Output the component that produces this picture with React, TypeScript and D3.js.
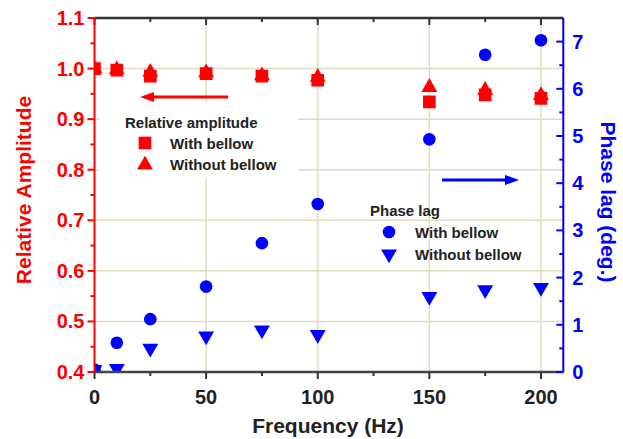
import { useEffect, useRef } from 'react'
import * as d3 from 'd3'

// data
const freq = [0, 10, 25, 50, 75, 100, 150, 175, 200]
const ampWith = [1.0, 0.997, 0.985, 0.99, 0.985, 0.977, 0.934, 0.948, 0.941]
const ampWithout = [1.0, 0.998, 0.993, 0.992, 0.986, 0.983, 0.963, 0.957, 0.947]
const phaseWith = [0.05, 0.62, 1.12, 1.81, 2.73, 3.56, 4.93, 6.72, 7.03]
const phaseWithout = [0.05, 0.07, 0.5, 0.76, 0.89, 0.79, 1.6, 1.74, 1.79]

const xMajor = [0, 50, 100, 150, 200]
const xMinor = [25, 75, 125, 175]
const ampMajor = [0.4, 0.5, 0.6, 0.7, 0.8, 0.9, 1.0, 1.1]
const ampMinor = [0.45, 0.55, 0.65, 0.75, 0.85, 0.95, 1.05]
const phaseMajor = [0, 1, 2, 3, 4, 5, 6, 7]
const phaseMinor = [0.5, 1.5, 2.5, 3.5, 4.5, 5.5, 6.5]

const W = 623
const H = 439
const RED = '#ff0000'
const BLUE = '#0000ff'
const GRID = '#dedec0'
const FONT = 'Liberation Sans, Arial, sans-serif'

export default function App() {
  const ref = useRef<SVGSVGElement>(null)

  useEffect(() => {
    const svg = d3.select(ref.current)
    svg.selectAll('*').remove()

    const m = { left: 94.5, right: 563.3, top: 18, bottom: 372 }
    const x = d3.scaleLinear().domain([0, 210]).range([m.left, m.right])
    const yA = d3.scaleLinear().domain([0.4, 1.1]).range([m.bottom, m.top])
    const yP = d3.scaleLinear().domain([0, 7.5]).range([m.bottom, m.top])

    svg.append('defs').append('clipPath').attr('id', 'plot')
      .append('rect')
      .attr('x', m.left).attr('y', m.top)
      .attr('width', m.right - m.left).attr('height', m.bottom - m.top)

    // grid
    const grid = svg.append('g').attr('stroke', GRID).attr('stroke-width', 1.5)
    ampMajor.filter(v => v > 0.4 && v < 1.1).forEach(v => {
      grid.append('line').attr('x1', m.left).attr('x2', m.right).attr('y1', yA(v)).attr('y2', yA(v))
    })
    xMajor.filter(v => v > 0).forEach(v => {
      grid.append('line').attr('x1', x(v)).attr('x2', x(v)).attr('y1', m.top).attr('y2', m.bottom)
    })

    // white box behind the amplitude legend
    svg.append('rect').attr('x', 100).attr('y', 103).attr('width', 198).attr('height', 75).attr('fill', '#fff')

    // markers
    const plot = svg.append('g').attr('clip-path', 'url(#plot)')
    const sq = d3.symbol().type(d3.symbolSquare).size(160)
    const tri = d3.symbol().type(d3.symbolTriangle).size(110)
    const circ = d3.symbol().type(d3.symbolCircle).size(125)

    freq.forEach((f, i) => {
      plot.append('path').attr('d', sq()).attr('fill', RED)
        .attr('transform', `translate(${x(f)},${yA(ampWith[i])})`)
      plot.append('path').attr('d', tri()).attr('fill', RED)
        .attr('transform', `translate(${x(f)},${yA(ampWithout[i])})`)
      plot.append('path').attr('d', circ()).attr('fill', BLUE)
        .attr('transform', `translate(${x(f)},${yP(phaseWith[i])})`)
      plot.append('path').attr('d', tri()).attr('fill', BLUE)
        .attr('transform', `translate(${x(f)},${yP(phaseWithout[i])}) rotate(180)`)
    })

    // frame / axes
    const ax = svg.append('g')
    ax.append('line').attr('x1', m.left).attr('x2', m.right).attr('y1', m.top).attr('y2', m.top)
      .attr('stroke', '#333').attr('stroke-width', 2.5)
    ax.append('line').attr('x1', m.left).attr('x2', m.right).attr('y1', m.bottom).attr('y2', m.bottom)
      .attr('stroke', '#444').attr('stroke-width', 2.5)

    const tickX = (vals: number[], len: number) => vals.forEach(v => {
      ax.append('line').attr('x1', x(v)).attr('x2', x(v)).attr('y1', m.bottom).attr('y2', m.bottom + len)
        .attr('stroke', '#333').attr('stroke-width', 2)
      ax.append('line').attr('x1', x(v)).attr('x2', x(v)).attr('y1', m.top).attr('y2', m.top + len)
        .attr('stroke', '#333').attr('stroke-width', 2)
    })
    tickX(xMajor, 7)
    tickX(xMinor, 4)

    ax.append('line').attr('x1', m.left).attr('x2', m.left).attr('y1', m.top).attr('y2', m.bottom)
      .attr('stroke', RED).attr('stroke-width', 2)
    ampMajor.forEach(v => ax.append('line').attr('x1', m.left - 7).attr('x2', m.left)
      .attr('y1', yA(v)).attr('y2', yA(v)).attr('stroke', RED).attr('stroke-width', 2))
    ampMinor.forEach(v => ax.append('line').attr('x1', m.left - 4).attr('x2', m.left)
      .attr('y1', yA(v)).attr('y2', yA(v)).attr('stroke', RED).attr('stroke-width', 2))

    ax.append('line').attr('x1', m.right).attr('x2', m.right).attr('y1', m.top).attr('y2', m.bottom)
      .attr('stroke', BLUE).attr('stroke-width', 2)
    phaseMajor.forEach(v => ax.append('line').attr('x1', m.right - 7).attr('x2', m.right)
      .attr('y1', yP(v)).attr('y2', yP(v)).attr('stroke', BLUE).attr('stroke-width', 2))
    phaseMinor.forEach(v => ax.append('line').attr('x1', m.right - 4).attr('x2', m.right)
      .attr('y1', yP(v)).attr('y2', yP(v)).attr('stroke', BLUE).attr('stroke-width', 2))

    // tick labels
    const lab = svg.append('g').attr('font-family', FONT).attr('font-weight', 'bold').attr('font-size', 20)
    ampMajor.forEach(v => lab.append('text').attr('x', m.left - 10).attr('y', yA(v))
      .attr('text-anchor', 'end').attr('dominant-baseline', 'central').attr('fill', RED)
      .text(d3.format('.1f')(v)))
    phaseMajor.forEach(v => lab.append('text').attr('x', m.right + 9).attr('y', yP(v))
      .attr('text-anchor', 'start').attr('dominant-baseline', 'central').attr('fill', BLUE)
      .text(v))
    xMajor.forEach(v => lab.append('text').attr('x', x(v)).attr('y', 404)
      .attr('text-anchor', 'middle').attr('fill', '#222').text(v))

    // axis titles
    const tt = svg.append('g').attr('font-family', FONT).attr('font-weight', 'bold').attr('font-size', 21)
    tt.append('text').attr('transform', 'translate(31,190) rotate(-90)')
      .attr('text-anchor', 'middle').attr('fill', RED).text('Relative Amplitude')
    tt.append('text').attr('transform', 'translate(601,202) rotate(90)')
      .attr('text-anchor', 'middle').attr('fill', BLUE).text('Phase lag (deg.)')
    tt.append('text').attr('x', 328).attr('y', 433)
      .attr('text-anchor', 'middle').attr('fill', '#222').text('Frequency (Hz)')

    // arrows
    const arrow = (x1: number, x2: number, y: number, color: string) => {
      const dir = Math.sign(x2 - x1)
      svg.append('line').attr('x1', x1).attr('x2', x2 - dir * 10).attr('y1', y).attr('y2', y)
        .attr('stroke', color).attr('stroke-width', 3)
      svg.append('path')
        .attr('d', `M${x2},${y} L${x2 - dir * 14},${y - 5} L${x2 - dir * 14},${y + 5} Z`)
        .attr('fill', color)
    }
    arrow(228, 140, 97, RED)
    arrow(442, 519, 180, BLUE)

    // legends
    const lg = svg.append('g').attr('font-family', FONT).attr('font-weight', 'bold').attr('font-size', 15)
      .attr('fill', '#222')
    lg.append('text').attr('x', 125).attr('y', 122).attr('dominant-baseline', 'central').text('Relative amplitude')
    lg.append('path').attr('d', sq()).attr('fill', RED).attr('transform', 'translate(145,143)')
    lg.append('text').attr('x', 170).attr('y', 143).attr('dominant-baseline', 'central').text('With bellow')
    lg.append('path').attr('d', tri()).attr('fill', RED).attr('transform', 'translate(145,165)')
    lg.append('text').attr('x', 170).attr('y', 164).attr('dominant-baseline', 'central').text('Without bellow')

    lg.append('text').attr('x', 370).attr('y', 210).attr('dominant-baseline', 'central').text('Phase lag')
    lg.append('path').attr('d', circ()).attr('fill', BLUE).attr('transform', 'translate(389,232)')
    lg.append('text').attr('x', 415).attr('y', 232).attr('dominant-baseline', 'central').text('With bellow')
    lg.append('path').attr('d', tri()).attr('fill', BLUE).attr('transform', 'translate(389,254) rotate(180)')
    lg.append('text').attr('x', 415).attr('y', 254).attr('dominant-baseline', 'central').text('Without bellow')
  }, [])

  return (
    <svg ref={ref} width={W} height={H}
      style={{ position: 'absolute', left: 0, top: 0, background: '#fff', display: 'block' }} />
  )
}
